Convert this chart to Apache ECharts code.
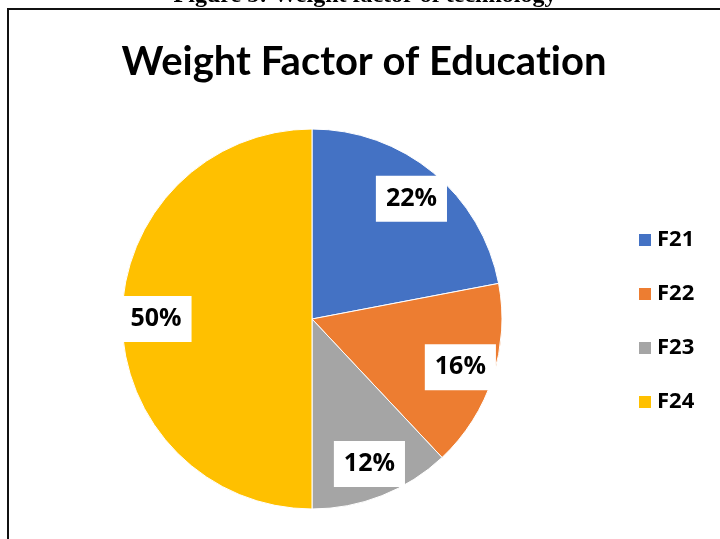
<!DOCTYPE html>
<html>
<head>
<meta charset="utf-8">
<script src="https://cdn.jsdelivr.net/npm/echarts@6/dist/echarts.min.js"></script>
<style>
  html, body { margin: 0; padding: 0; background: #fff; }
  #chart { width: 720px; height: 539px; }
</style>
</head>
<body>
<div id="chart"></div>
<script>
// Weight factor shares (percent) for the education criteria
const categories = ['F21', 'F22', 'F23', 'F24'];
const shares = [22, 16, 12, 50];
const palette = ['#4472C4', '#ED7D31', '#A5A5A5', '#FFC000'];
// zero-width non-joiner keeps Lato from fusing "ti" into a ligature
const chartTitle = 'Weight Factor of Educat\u200Cion';
const caption = 'Figure 5: Weight factor of technology';

const sliceData = categories.map((name, i) => ({ name, value: shares[i] }));
const labelFont = '"Open Sans", "Noto Sans", sans-serif';

const chart = echarts.init(document.getElementById('chart'), null, { renderer: 'canvas' });
chart.setOption({
  animation: false,
  backgroundColor: '#fff',
  color: palette,
  title: {
    text: chartTitle,
    left: 359,
    textAlign: 'center',
    top: 37,
    textStyle: { fontFamily: 'Lato, "Open Sans", sans-serif', fontWeight: 'bold', fontSize: 40, color: '#000' }
  },
  legend: {
    orient: 'vertical',
    left: 632,
    top: 224,
    icon: 'rect',
    itemWidth: 14,
    itemHeight: 14,
    itemGap: 32,
    data: categories,
    textStyle: { fontFamily: labelFont, fontWeight: 'bold', fontSize: 22, lineHeight: 22, color: '#000' }
  },
  graphic: [
    {
      type: 'rect',
      shape: { x: 8, y: 9, width: 720, height: 540 },
      style: { fill: 'none', stroke: '#111', lineWidth: 2 },
      silent: true
    },
    {
      type: 'text',
      x: 365,
      y: 8,
      style: {
        text: caption,
        fill: '#000',
        font: 'bold 24px "Liberation Serif", serif',
        textAlign: 'center',
        textVerticalAlign: 'bottom'
      },
      silent: true
    }
  ],
  series: [
    {
      name: 'Weight',
      type: 'pie',
      center: [312, 319],
      radius: 190,
      startAngle: 90,
      clockwise: true,
      data: sliceData,
      label: { show: false },
      labelLine: { show: false },
      itemStyle: { borderColor: '#fff', borderWidth: 1 }
    },
    {
      // transparent ring that carries the percentage labels nearer the rim
      name: 'Labels',
      type: 'pie',
      center: [312, 319],
      radius: [116, 190],
      startAngle: 90,
      clockwise: true,
      silent: true,
      legendHoverLink: false,
      data: sliceData,
      itemStyle: { color: 'transparent', borderWidth: 0 },
      labelLine: { show: false },
      label: {
        show: true,
        position: 'inside',
        formatter: '{c}%',
        fontFamily: labelFont,
        fontWeight: 'bold',
        fontSize: 25,
        lineHeight: 30,
        color: '#000',
        backgroundColor: '#fff',
        padding: [8, 10]
      },
      emphasis: { disabled: true }
    }
  ]
});
</script>
</body>
</html>
